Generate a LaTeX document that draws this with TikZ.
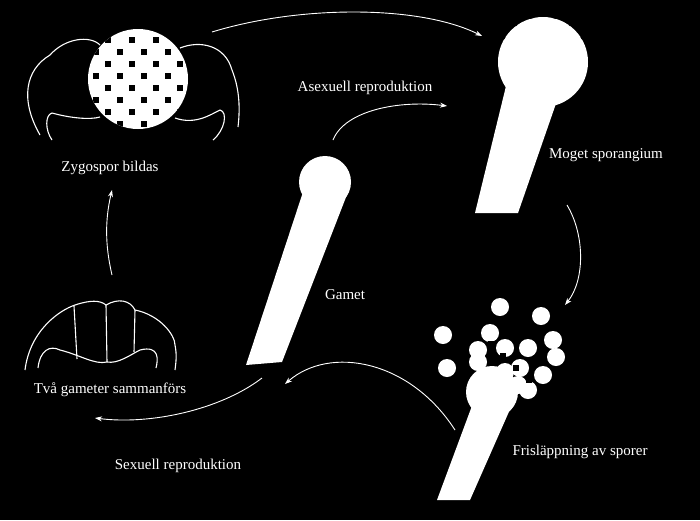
\documentclass[tikz,border=0pt]{standalone}
\usepackage{fontspec}
\setmainfont{Liberation Serif}
\usetikzlibrary{arrows.meta}
\begin{document}
\begin{tikzpicture}[x=1pt,y=-1pt,
  lbl/.style={text=white,font=\fontsize{15}{17}\selectfont},
  cyc/.style={white,line width=0.9pt,-{Stealth[length=7pt,width=5pt]}},
  outl/.style={white,line width=1.1pt},
  dot/.style={fill=white}]
\fill[black] (0,0) rectangle (700,520);
\useasboundingbox (0,0) rectangle (700,520);
% zygospore
\draw[outl] (40,135) .. controls (20,100) and (25,70) .. (50,55) .. controls (65,38) and (90,35) .. (100,45);
\draw[outl] (52,140) .. controls (45,130) and (45,115) .. (52,113) .. controls (70,118) and (90,120) .. (100,117);
\draw[outl] (180,48) .. controls (200,40) and (225,45) .. (232,70) .. controls (240,90) and (240,110) .. (238,127);
\draw[outl] (175,118) .. controls (195,125) and (210,115) .. (220,110) .. controls (228,112) and (225,130) .. (213,140);
\fill[white] (138,79) circle (50);
\begin{scope}
\clip (138,79) circle (50);
\foreach \i in {0,...,8} \foreach \j in {0,...,8} {
  \pgfmathtruncatemacro{\p}{mod(\i+\j,2)}
  \ifnum\p=1 \fill[black] (96+12*\i-3,40+12*\j-3) rectangle ++(6,6); \fi }
\end{scope}
\node[lbl] (zyg) at (110,168) {Zygospor bildas};
% mature sporangium
\fill[white] (507,82) -- (560,92) -- (518,213) -- (475,213) -- cycle;
\fill[white] (543,62) circle (45);
\begin{scope}
\clip (543,62) circle (45) (498,17) rectangle (600,80);
\clip (0,0) rectangle (700,83);
\foreach \i in {0,...,8} \foreach \j in {0,...,8} {
  \pgfmathtruncatemacro{\p}{mod(\i+\j,2)}
  \ifnum\p=1 \fill[black] (495+12*\i-3,16+12*\j-3) rectangle ++(6,6); \fi }
\end{scope}
\fill[white] (527,82) circle (14) (548,85) circle (12);
\node[lbl] (mog) at (606,155) {Moget sporangium};
% gamete
\fill[white] (303,192) -- (348,192) -- (282,362) -- (246,365) -- cycle;
\fill[white] (325,182) circle (26);
\node[lbl] (gam) at (345,295) {Gamet};
% two gametes
\draw[outl] (25,370) .. controls (30,330) and (60,310) .. (75,305) .. controls (90,300) and (100,300) .. (106,305) .. controls (118,298) and (130,300) .. (135,310) .. controls (160,315) and (175,335) .. (175,345) .. controls (177,355) and (176,362) .. (175,370);
\draw[outl] (38,368) .. controls (40,350) and (50,345) .. (60,350) .. controls (80,355) and (95,365) .. (107,362) .. controls (118,364) and (130,355) .. (140,350) .. controls (160,345) and (158,360) .. (156,368);
\draw[outl] (74,306) -- (77,359);
\draw[outl] (106,305) -- (107,362);
\draw[outl] (135,310) -- (134,352);
\node[lbl] (two) at (110,390) {Två gameter sammanförs};
\node[lbl] (sex) at (178,466) {Sexuell reproduktion};
% spore release
\fill[white] (476,395) -- (515,398) -- (470,500) -- (437,500) -- cycle;
\fill[white] (492,392) circle (26);
\foreach \x/\y in {500/307,541/316,443/335,447/368,556/357,490/333,
   478/350,505/348,528/348,553/340,478/362,520/368,543/375,528/390,505/372,518/385} \fill[white] (\x,\y) circle (9);
\foreach \x/\y in {491/344,503/356,516/368,529/380} \fill[black] (\x-3,\y-3) rectangle ++(6,6);
\node[lbl] (fri) at (580,452) {Frisläppning av sporer};
\node[lbl] (ase) at (365,88) {Asexuell reproduktion};
% cycle arrows
\coordinate (a1) at (212,32); \coordinate (a2) at (482,36);
\coordinate (b1) at (333,140); \coordinate (b2) at (447,106);
\coordinate (c1) at (567,205); \coordinate (c2) at (565,305);
\coordinate (d1) at (455,430); \coordinate (d2) at (285,384);
\coordinate (e1) at (262,378); \coordinate (e2) at (95,418);
\coordinate (f1) at (112,275); \coordinate (f2) at (112,190);
\draw[cyc] (a1) .. controls (300,5) and (420,5) .. (a2);
\draw[cyc] (b1) .. controls (345,110) and (400,100) .. (b2);
\draw[cyc] (c1) .. controls (585,235) and (585,280) .. (c2);
\draw[cyc] (d1) .. controls (410,360) and (330,345) .. (d2);
\draw[cyc] (e1) .. controls (220,410) and (150,425) .. (e2);
\draw[cyc] (f1) .. controls (105,245) and (105,220) .. (f2);
\end{tikzpicture}
\end{document}
